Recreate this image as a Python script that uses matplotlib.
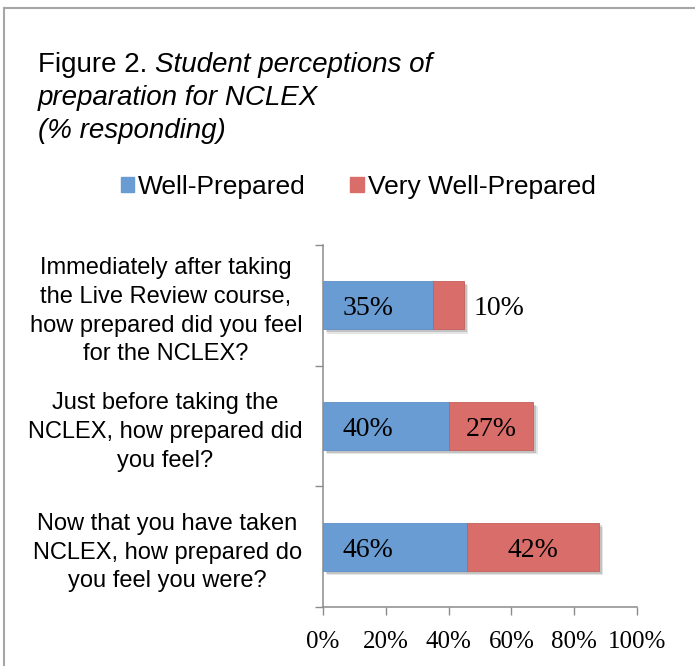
import matplotlib
matplotlib.use('Agg')
import matplotlib.pyplot as plt
import matplotlib.patches as mpatches
import matplotlib.patheffects as pe
from matplotlib.lines import Line2D

plt.rcParams['font.family'] = ['Liberation Sans', 'DejaVu Sans']

# данные
questions = [
    'Immediately after taking\nthe Live Review course,\nhow prepared did you feel\nfor the NCLEX?',
    'Just before taking the\nNCLEX, how prepared did\nyou feel?',
    'Now that you have taken\nNCLEX, how prepared do\nyou feel you were?',
]
well_prepared = [35, 40, 46]
very_well_prepared = [10, 27, 42]
series_names = ['Well-Prepared', 'Very Well-Prepared']
x_ticks = [0, 20, 40, 60, 80, 100]

blue = '#699CD3'
red = '#D86D69'
axis_grey = '#8C8C8C'
serif = ['Liberation Serif', 'DejaVu Serif']

W, H = 695, 666
fig = plt.figure(figsize=(W / 100, H / 100), dpi=100)

# рамка (видны только верх и левый край)
fig.add_artist(Line2D([4 / W, 1], [1 - 8 / H, 1 - 8 / H], color='#A6A6A6', lw=1.5))
fig.add_artist(Line2D([4 / W, 4 / W], [0, 1 - 8 / H], color='#A6A6A6', lw=1.5))

ax = fig.add_axes([323 / W, 1 - 607 / H, (637 - 323) / W, (607 - 245) / H])

shadow = [pe.SimplePatchShadow(offset=(3, -3), shadow_rgbFace='k', alpha=0.10),
          pe.SimplePatchShadow(offset=(2, -2), shadow_rgbFace='k', alpha=0.15),
          pe.Normal()]

pos = list(range(len(questions)))
b1 = ax.barh(pos, well_prepared, height=0.4, color=blue, edgecolor='#5E8FC6', lw=0.6)
b2 = ax.barh(pos, very_well_prepared, left=well_prepared, height=0.4,
             color=red, edgecolor='#C45F5B', lw=0.6)
for p in list(b1) + list(b2):
    p.set_path_effects(shadow)

# подписи значений
for i, (a, b) in enumerate(zip(well_prepared, very_well_prepared)):
    ax.annotate(f'{a}%', xy=(0, i), xytext=(14, -2.5), textcoords='offset points',
                ha='left', va='center', fontsize=20, family=serif)
    if b >= 20:
        ax.annotate(f'{b}%', xy=(a + b / 2, i), xytext=(0, -2.5), textcoords='offset points',
                    ha='center', va='center', fontsize=20, family=serif)
    else:
        ax.annotate(f'{b}%', xy=(a + b, i), xytext=(6.5, -2.5), textcoords='offset points',
                    ha='left', va='center', fontsize=20, family=serif)

ax.set_xlim(0, 100)
ax.set_ylim(len(questions) - 0.5, -0.5)

ax.set_xticks(x_ticks)
ax.set_xticklabels([f'{v}%' for v in x_ticks], fontsize=18, family=serif)
ax.tick_params(axis='x', length=6, width=1, color=axis_grey, pad=11)

ax.set_yticks([i - 0.5 for i in range(len(questions) + 1)])
ax.set_yticklabels([])
ax.set_yticks(pos, minor=True)
ax.set_yticklabels(questions, minor=True, fontsize=17, multialignment='center',
                   linespacing=1.4)
ax.tick_params(axis='y', which='major', length=6, width=1, color=axis_grey)
ax.tick_params(axis='y', which='minor', length=0, pad=15)

for s in ['top', 'right']:
    ax.spines[s].set_visible(False)
for s in ['left', 'bottom']:
    ax.spines[s].set_color(axis_grey)
    ax.spines[s].set_linewidth(1.1)

# заголовок
renderer = fig.canvas.get_renderer()
t1 = fig.text(38 / W, 1 - 72 / H, 'Figure 2. ', fontsize=20, va='baseline')
bb = t1.get_window_extent(renderer)
fig.text(bb.x1 / W, 1 - 72 / H, 'Student perceptions of', fontsize=20,
         style='italic', va='baseline')
fig.text(38 / W, 1 - 105 / H, 'preparation for NCLEX', fontsize=20,
         style='italic', va='baseline')
fig.text(38 / W, 1 - 138 / H, '(% responding)', fontsize=20,
         style='italic', va='baseline')

# легенда
handles = [mpatches.Patch(color=blue), mpatches.Patch(color=red)]
fig.legend(handles, series_names, loc='center', bbox_to_anchor=(358 / W, 1 - 187 / H),
           ncol=2, frameon=False, fontsize=19, handlelength=0.5, handleheight=0.5,
           handletextpad=0.15, columnspacing=1.7, borderpad=0)

fig.savefig('out.png', dpi=100)
